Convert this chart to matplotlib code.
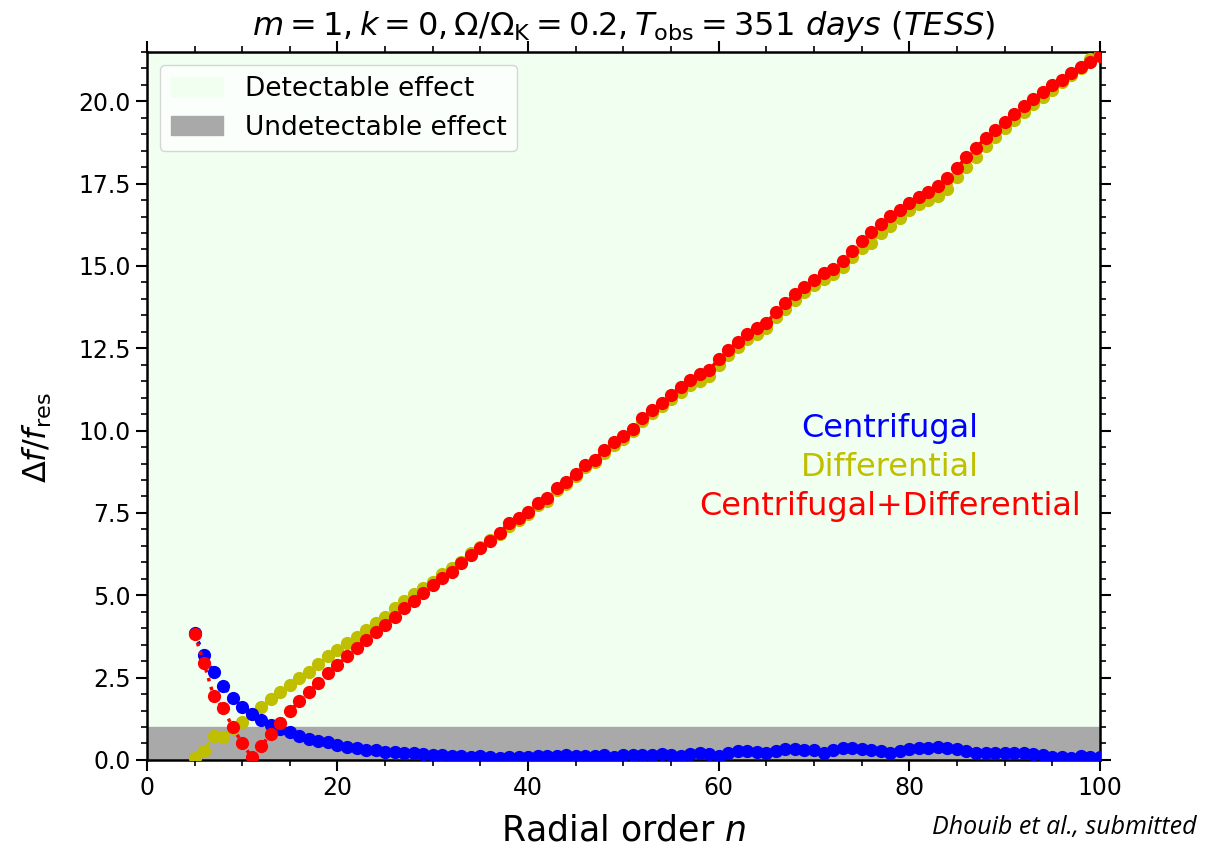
import matplotlib
matplotlib.use('Agg')
import matplotlib.pyplot as plt
import numpy as np
from matplotlib.patches import Patch
from matplotlib.ticker import MultipleLocator

plt.rcParams['font.family'] = 'DejaVu Sans'
plt.rcParams['mathtext.fontset'] = 'dejavusans'

# radial order n = 5 ... 100
n = np.arange(5, 101)

# centrifugal effect (blue)
centrifugal = [3.85, 3.19, 2.67, 2.25, 1.89, 1.62, 1.40, 1.21, 1.06, 0.93,
               0.84, 0.73, 0.64, 0.58, 0.53, 0.45, 0.40, 0.35, 0.31, 0.29,
               0.25, 0.24, 0.21, 0.20, 0.17, 0.16, 0.15, 0.12, 0.11, 0.09,
               0.11, 0.08, 0.07, 0.09, 0.10, 0.08, 0.13, 0.11, 0.12, 0.14,
               0.13, 0.11, 0.13, 0.15, 0.10, 0.14, 0.16, 0.15, 0.15, 0.17,
               0.15, 0.12, 0.17, 0.20, 0.18, 0.11, 0.20, 0.26, 0.27, 0.25,
               0.21, 0.27, 0.32, 0.33, 0.31, 0.29, 0.22, 0.30, 0.35, 0.35,
               0.34, 0.30, 0.27, 0.20, 0.28, 0.33, 0.35, 0.37, 0.38, 0.36,
               0.33, 0.27, 0.22, 0.21, 0.22, 0.22, 0.21, 0.20, 0.18, 0.15,
               0.10, 0.08, 0.07, 0.12, 0.08, 0.10]

# differential effect (yellow)
differential = [0.05, 0.28, 0.73, 0.69, 0.97, 1.15, 1.38, 1.60, 1.84, 2.07,
                2.28, 2.48, 2.68, 2.90, 3.14, 3.34, 3.54, 3.74, 3.95, 4.17,
                4.35, 4.60, 4.84, 5.04, 5.21, 5.41, 5.66, 5.84, 6.02, 6.27,
                6.47, 6.68, 6.85, 7.11, 7.29, 7.47, 7.75, 7.87, 8.19, 8.37,
                8.61, 8.88, 9.04, 9.33, 9.56, 9.75, 9.98, 10.30, 10.53, 10.75,
                10.97, 11.18, 11.38, 11.52, 11.66, 11.98, 12.30, 12.53, 12.77, 12.94,
                13.12, 13.44, 13.69, 13.97, 14.20, 14.41, 14.60, 14.75, 14.97, 15.27,
                15.55, 15.70, 16.00, 16.21, 16.46, 16.71, 16.89, 16.99, 17.12, 17.35,
                17.70, 18.00, 18.31, 18.63, 18.91, 19.19, 19.42, 19.67, 19.91, 20.13,
                20.35, 20.58, 20.80, 21.00, 21.28, 21.42]

# centrifugal + differential (red)
combined = [3.82, 2.93, 1.94, 1.57, 0.99, 0.51, 0.08, 0.42, 0.79, 1.12,
            1.48, 1.78, 2.07, 2.35, 2.63, 2.88, 3.16, 3.39, 3.64, 3.89,
            4.11, 4.35, 4.60, 4.84, 5.08, 5.31, 5.51, 5.71, 5.97, 6.22,
            6.44, 6.65, 6.90, 7.18, 7.35, 7.53, 7.81, 7.94, 8.26, 8.44,
            8.68, 8.95, 9.12, 9.41, 9.64, 9.83, 10.06, 10.39, 10.62, 10.85,
            11.08, 11.33, 11.53, 11.71, 11.84, 12.16, 12.46, 12.69, 12.93, 13.10,
            13.27, 13.60, 13.86, 14.14, 14.37, 14.58, 14.77, 14.92, 15.15, 15.46,
            15.75, 16.02, 16.28, 16.52, 16.71, 16.91, 17.10, 17.24, 17.43, 17.67,
            17.97, 18.31, 18.58, 18.89, 19.12, 19.37, 19.62, 19.85, 20.06, 20.28,
            20.49, 20.66, 20.87, 21.04, 21.19, 21.37]

threshold = 1.0

fig = plt.figure(figsize=(12.14, 8.5), dpi=100)
ax = fig.add_axes([0.121, 0.106, 0.785, 0.833])

ax.axhspan(threshold, 30, color='honeydew', zorder=0)
ax.axhspan(0, threshold, color='darkgray', zorder=0)

ax.plot(n, differential, 'o:', color='y', ms=8.5, lw=2.5, zorder=3)
ax.plot(n, centrifugal, 'o:', color='b', ms=8.5, lw=2.5, zorder=4)
ax.plot(n, combined, 'o:', color='r', ms=8.5, lw=2.5, zorder=5)

ax.set_xlim(0, 100)
ax.set_ylim(0, 21.5)
ax.xaxis.set_major_locator(MultipleLocator(20))
ax.xaxis.set_minor_locator(MultipleLocator(5))
ax.yaxis.set_major_locator(MultipleLocator(2.5))
ax.yaxis.set_minor_locator(MultipleLocator(0.5))
ax.tick_params(which='both', top=True, right=True, direction='out', labelsize=17)
ax.tick_params(which='major', length=8, width=1.5)
ax.tick_params(which='minor', length=4, width=1.2)
for sp in ax.spines.values():
    sp.set_linewidth(1.8)

ax.set_xlabel(r'Radial order $n$', fontsize=25, labelpad=10)
ax.set_ylabel(r'$\Delta f/f_{\rm res}$', fontsize=23)
ax.yaxis.set_label_coords(-0.098, 0.455)
ax.set_title(r'$m=1, k=0, \Omega/\Omega_{\rm K}=0.2, T_{\rm obs}=351\ days\ (TESS)$', fontsize=23, pad=12)

ax.text(78, 10.05, 'Centrifugal', color='b', fontsize=23, ha='center', va='center')
ax.text(78, 8.89, 'Differential', color='y', fontsize=23, ha='center', va='center')
ax.text(78, 7.68, 'Centrifugal+Differential', color='r', fontsize=23, ha='center', va='center')

handles = [Patch(color='honeydew'), Patch(color='darkgray')]
ax.legend(handles, ['Detectable effect', 'Undetectable effect'], loc='upper left', fontsize=19)

fig.text(0.986, 0.012, 'Dhouib et al., submitted', fontsize=18, style='italic',
         family='Open Sans', ha='right', va='bottom')

fig.savefig('out.png', dpi=100)
